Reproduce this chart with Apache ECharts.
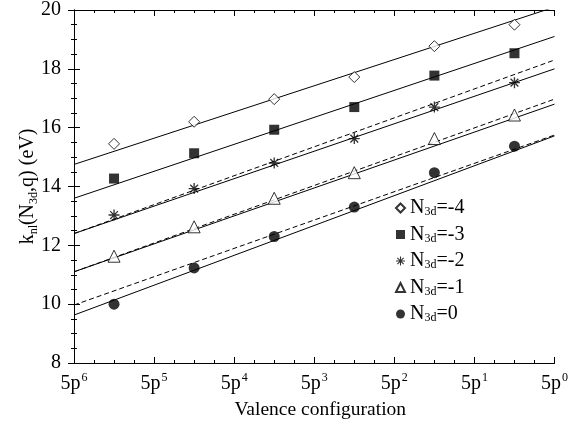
<!DOCTYPE html>
<html><head><meta charset="utf-8">
<script src="https://cdn.jsdelivr.net/npm/echarts@6/dist/echarts.min.js"></script>
<style>html,body{margin:0;padding:0;background:#fff}#c{width:571px;height:425px}</style>
</head><body><div id="c"></div>
<script>
// x positions (0 = 5p^6 ... 6 = 5p^0); data sit between ticks
const xPos = [0.5, 1.5, 2.5, 3.5, 4.5, 5.5];
const tickExp = ['6','5','4','3','2','1','0'];
const seriesNames = ['N3d=-4','N3d=-3','N3d=-2','N3d=-1','N3d=0'];
const valsM4 = [15.45, 16.2, 16.97, 17.72, 18.77, 19.5];
const valsM3 = [14.27, 15.13, 15.93, 16.7, 17.77, 18.53];
const valsM2 = [13.03, 13.93, 14.8, 15.63, 16.7, 17.53];
const valsM1 = [11.63, 12.63, 13.6, 14.47, 15.63, 16.43];
const vals0  = [10.0, 11.23, 12.3, 13.3, 14.47, 15.37];
// fit lines: value at x=0 and x=6
const fitX = [0, 6];
const fitM4 = [14.75, 20.1];
const fitM3 = [13.6, 19.1];
const fitM2 = [12.4, 18.0];
const fitM1 = [11.1, 16.8];
const fit0  = [9.63, 15.72];
const dashM2 = [12.4, 18.3];
const dashM1 = [11.1, 16.97];
const dash0  = [9.97, 15.75];

const FONT = 'Liberation Serif';
const star = 'path://M4.4,0H5.6V10H4.4Z M0,4.4H10V5.6H0Z M1.04,1.89L1.89,1.04L8.96,8.11L8.11,8.96Z M1.89,8.96L1.04,8.11L8.11,1.04L8.96,1.89Z';
const symbols = ['diamond','rect',star,'triangle','circle'];
const sizes = [11, 10, 11, 12, 11];
const filled = [false, true, true, false, true];
const allVals = [valsM4, valsM3, valsM2, valsM1, vals0];
const fits = [fitM4, fitM3, fitM2, fitM1, fit0];
const dashes = [dashM2, dashM1, dash0];

const pairs = (xs, ys) => xs.map((x, i) => [x, ys[i]]);
const series = [];
fits.forEach(f => series.push({type:'line', data: pairs(fitX, f), symbol:'none', silent:true,
  lineStyle:{color:'#000', width:1}, z:2}));
dashes.forEach(f => series.push({type:'line', data: pairs(fitX, f), symbol:'none', silent:true,
  lineStyle:{color:'#000', width:1, type:[5,3]}, z:2}));
allVals.forEach((v, i) => series.push({type:'scatter', name: seriesNames[i], data: pairs(xPos, v),
  symbol: symbols[i], symbolSize: sizes[i], z:5,
  itemStyle: filled[i] ? {color:'#000', borderColor:'#000', borderWidth:0} : {color:'#fff', borderColor:'#000', borderWidth:1}}));

const tickCommon = {
  axisLine:{show:true, lineStyle:{color:'#000', width:1}},
  axisTick:{show:true, inside:true, length:6, lineStyle:{color:'#000'}},
  minorTick:{show:true, splitNumber:4, length:3, lineStyle:{color:'#000'}},
  splitLine:{show:false}
};
const chart = echarts.init(document.getElementById('c'), null, {renderer:'canvas'});
chart.setOption({
  animation:false,
  backgroundColor:'#fff',
  grid:{left:74, right:15, top:6, bottom:59, containLabel:false},
  xAxis:[
    Object.assign({type:'value', min:0, max:6, interval:1, position:'bottom',
      name:'Valence configuration', nameLocation:'middle', nameGap:37, nameMoveOverlap:false,
      nameTextStyle:{fontFamily:FONT, fontSize:19.5, color:'#000', padding:[0,0,0,12]},
      axisLabel:{margin:9, color:'#000',
        formatter: v => '{b|5p}{s|' + tickExp[v] + '}',
        rich:{b:{fontFamily:FONT, fontSize:20, color:'#000', lineHeight:22, verticalAlign:'bottom'},
              s:{fontFamily:FONT, fontSize:12, color:'#000', lineHeight:22, verticalAlign:'top', padding:[0,0,0,1]}}}
    }, tickCommon),
    Object.assign({type:'value', min:0, max:6, interval:1, position:'top', axisLabel:{show:false}}, tickCommon)
  ],
  yAxis:[
    Object.assign({type:'value', min:8, max:20, interval:2, position:'left',
      name:'{t|k}{s|nl}{t|(N}{s|3d}{t|,q) (eV)}', nameLocation:'middle', nameGap:34, nameRotate:90, nameMoveOverlap:false,
      nameTextStyle:{rich:{t:{fontFamily:FONT, fontSize:20, color:'#000', lineHeight:24, verticalAlign:'middle'},
                           s:{fontFamily:FONT, fontSize:12, color:'#000', lineHeight:24, verticalAlign:'bottom'}}},
      axisLabel:{margin:13, color:'#000', fontFamily:FONT, fontSize:20}
    }, tickCommon),
    Object.assign({type:'value', min:8, max:20, interval:2, position:'right', axisLabel:{show:false}}, tickCommon)
  ],
  legend:{
    orient:'vertical', left:390, top:193, itemGap:6.5, itemWidth:9, itemHeight:9,
    data: seriesNames,
    formatter: n => '{n|N}{s|3d}{n|' + n.slice(3) + '}',
    textStyle:{rich:{n:{fontFamily:FONT, fontSize:20, color:'#000', lineHeight:20, verticalAlign:'middle'},
                     s:{fontFamily:FONT, fontSize:12, color:'#000', lineHeight:20, verticalAlign:'bottom'}}}
  },
  series: series
});
</script></body></html>
